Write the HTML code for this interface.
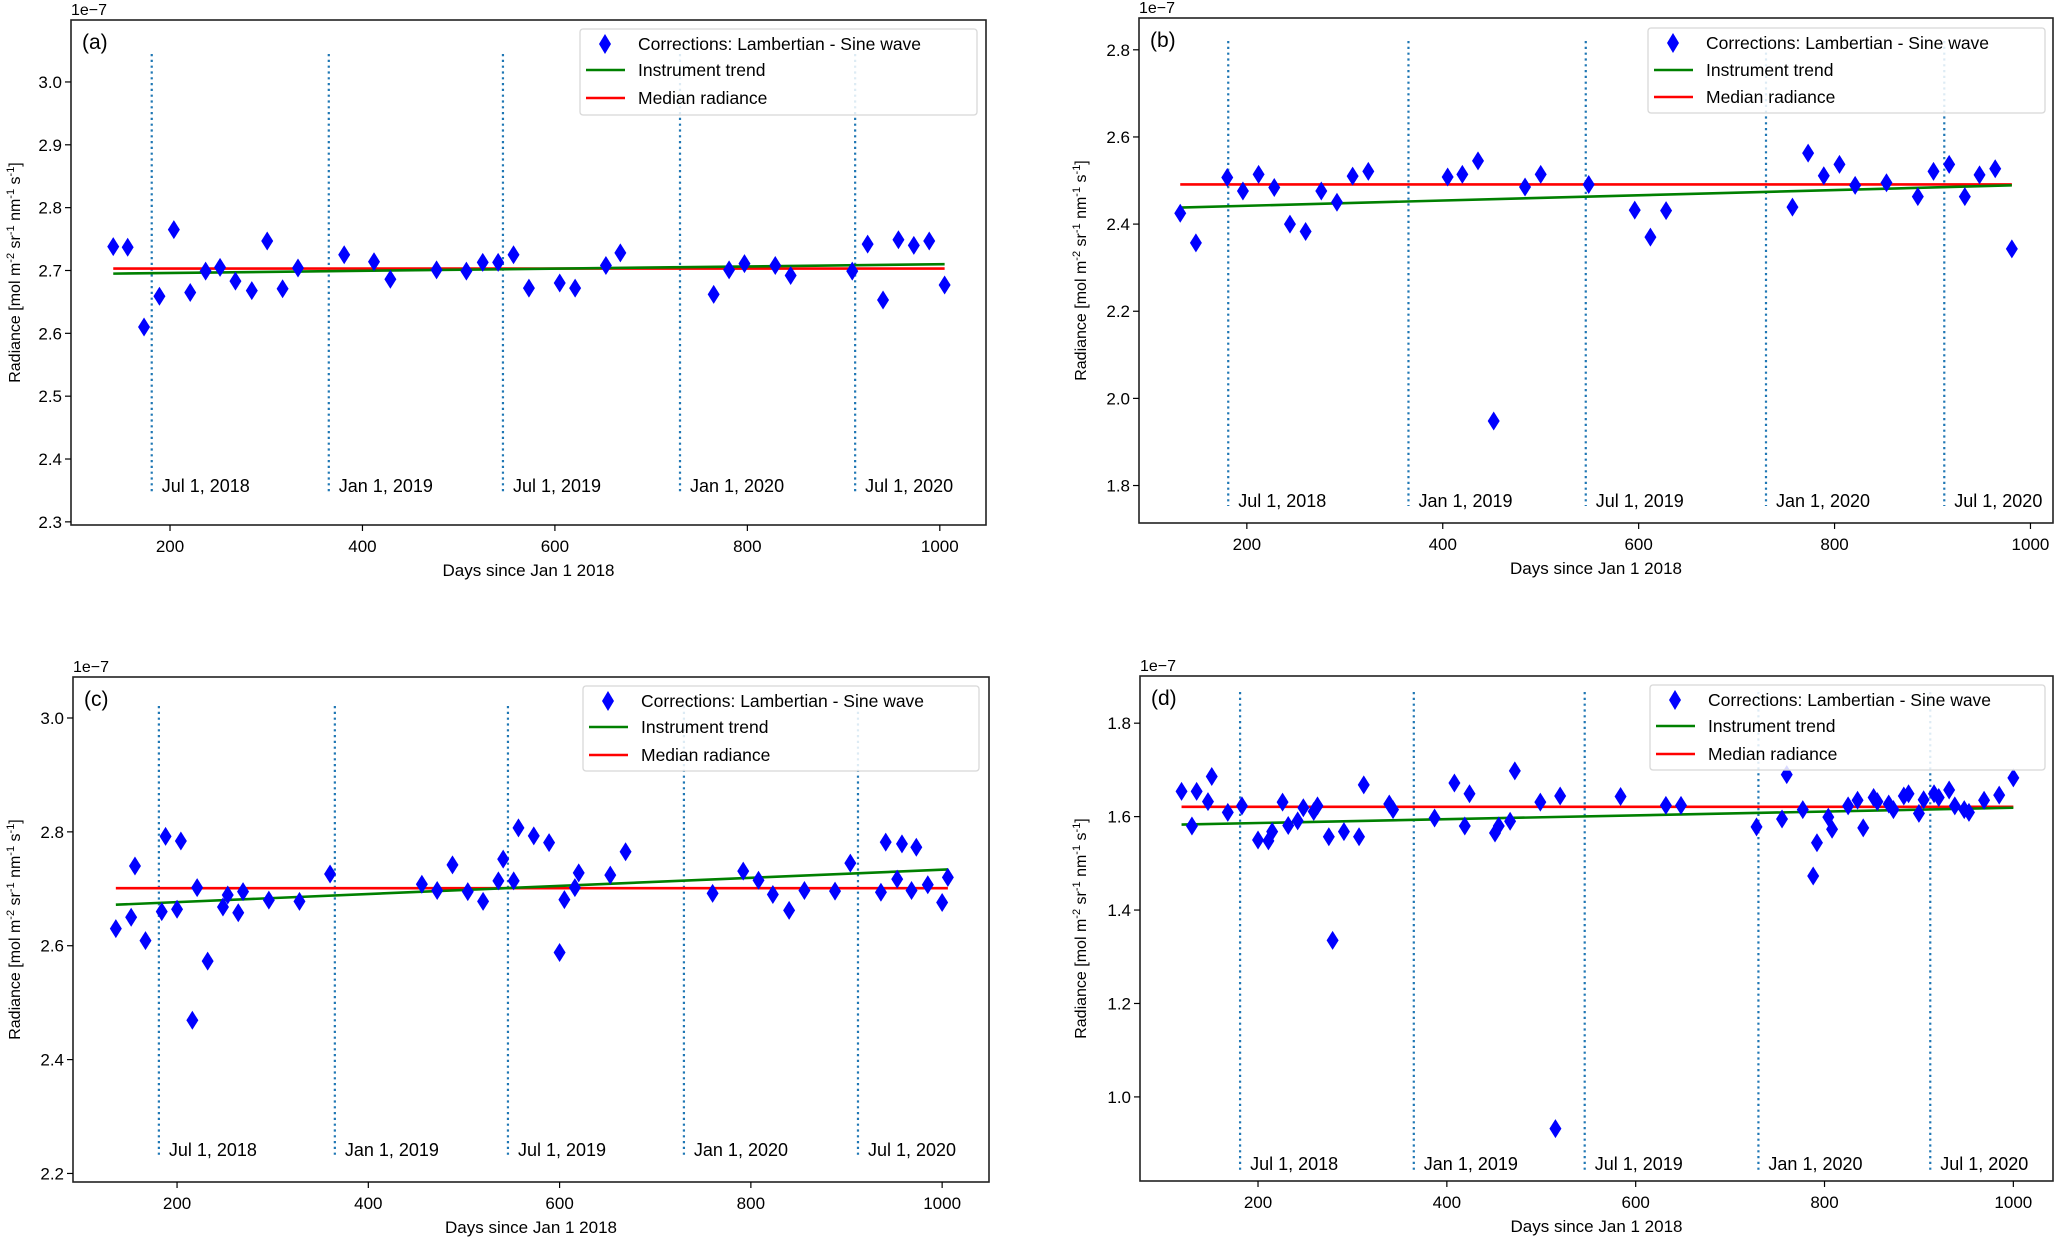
<!DOCTYPE html>
<html><head><meta charset="utf-8"><style>
html,body{margin:0;padding:0;background:#fff;}
svg{display:block;font-family:"Liberation Sans","DejaVu Sans",sans-serif;}
</style></head><body>
<svg id="fig" width="2056" height="1237" viewBox="0 0 2056 1237" xmlns="http://www.w3.org/2000/svg"></svg>
<script>
// ---- Data ----
const daysA=[141,156,173,189,204,221,237,252,268,285,301,317,333,381,412,429,477,508,525,541,557,573,605,621,653,668,765,781,797,829,845,909,925,941,957,973,989,1005];
const valsA=[2.738,2.737,2.610,2.659,2.765,2.665,2.699,2.705,2.683,2.668,2.747,2.671,2.704,2.725,2.714,2.686,2.701,2.699,2.713,2.713,2.725,2.672,2.680,2.672,2.708,2.728,2.662,2.701,2.711,2.708,2.692,2.699,2.742,2.653,2.749,2.740,2.747,2.677];
const daysB=[132,148,180,196,212,228,244,260,276,292,308,324,405,420,436,452,484,500,549,596,612,628,757,773,789,805,821,853,885,901,917,933,948,964,981];
const valsB=[2.425,2.357,2.507,2.476,2.514,2.484,2.400,2.383,2.476,2.450,2.510,2.521,2.508,2.514,2.545,1.948,2.485,2.514,2.491,2.432,2.370,2.431,2.439,2.563,2.511,2.537,2.489,2.495,2.463,2.521,2.537,2.463,2.513,2.527,2.343];
const daysC=[136,152,156,167,184,188,200,204,216,221,232,248,253,264,269,296,328,360,456,472,488,504,520,536,541,552,557,573,589,600,605,616,620,653,669,760,792,808,823,840,856,888,904,936,941,953,958,968,973,985,1000,1006];
const valsC=[2.630,2.650,2.740,2.609,2.660,2.792,2.664,2.784,2.469,2.702,2.573,2.668,2.689,2.658,2.695,2.680,2.678,2.726,2.708,2.697,2.742,2.695,2.678,2.714,2.752,2.714,2.807,2.793,2.781,2.588,2.681,2.702,2.728,2.724,2.765,2.692,2.731,2.715,2.690,2.662,2.697,2.696,2.745,2.694,2.782,2.717,2.779,2.697,2.773,2.707,2.676,2.720];
const daysD=[119,130,135,147,151,168,183,200,211,215,226,232,242,248,259,263,275,291,307,312,339,343,387,408,419,424,451,455,467,472,499,520,584,632,648,728,755,760,777,792,788,804,808,825,835,841,852,856,868,873,884,889,900,905,916,921,932,938,948,953,969,985,1000,279,515];
const valsD=[1.654,1.580,1.654,1.632,1.686,1.609,1.623,1.550,1.548,1.568,1.631,1.581,1.591,1.619,1.611,1.623,1.557,1.568,1.557,1.668,1.627,1.615,1.597,1.672,1.580,1.649,1.565,1.580,1.590,1.698,1.631,1.644,1.643,1.624,1.624,1.578,1.595,1.690,1.615,1.544,1.473,1.599,1.573,1.623,1.635,1.576,1.641,1.632,1.627,1.615,1.644,1.649,1.607,1.636,1.649,1.641,1.657,1.623,1.615,1.609,1.635,1.646,1.683,1.335,0.932];
const medians=[2.703,2.491,2.701,1.621];
const trendStart=[2.695,2.438,2.672,1.583];
const trendEnd=[2.710,2.489,2.734,1.619];
const eventDays=[181,365,546,730,912];
const eventLabels=["Jul 1, 2018","Jan 1, 2019","Jul 1, 2019","Jan 1, 2020","Jul 1, 2020"];
const xTicks=[200,400,600,800,1000];
const yTicksA=[2.3,2.4,2.5,2.6,2.7,2.8,2.9,3.0];
const yTicksB=[1.8,2.0,2.2,2.4,2.6,2.8];
const yTicksC=[2.2,2.4,2.6,2.8,3.0];
const yTicksD=[1.0,1.2,1.4,1.6,1.8];

const NS="http://www.w3.org/2000/svg";
const svg=document.getElementById('fig');
function mk(tag,attrs,parent){const e=document.createElementNS(NS,tag);for(const k in attrs)e.setAttribute(k,attrs[k]);(parent||svg).appendChild(e);return e;}

const panels=[
 {id:'a',L:71,R:986,T:20,B:525,x0:97.1,x1:1048,y0:2.295,y1:3.0986,days:daysA,vals:valsA,yt:yTicksA,dec:1,lineT:54,lineB:493,lblY:492,leg:[580,29,977,115],legRows:[44,70,98],ylx:14},
 {id:'b',L:1139,R:2053,T:18,B:523,x0:89.9,x1:1023,y0:1.714,y1:2.873,days:daysB,vals:valsB,yt:yTicksB,dec:1,lineT:41,lineB:506,lblY:507,leg:[1648,28,2045,113],legRows:[43,70,97],ylx:1080},
 {id:'c',L:73,R:989,T:677,B:1182,x0:91.2,x1:1049,y0:2.185,y1:3.072,days:daysC,vals:valsC,yt:yTicksC,dec:1,lineT:706,lineB:1157,lblY:1156,leg:[583,686,979,771],legRows:[701,727,755],ylx:14},
 {id:'d',L:1140,R:2053,T:676,B:1181,x0:75,x1:1042,y0:0.820,y1:1.901,days:daysD,vals:valsD,yt:yTicksD,dec:1,lineT:692,lineB:1173,lblY:1170,leg:[1650,685,2045,770],legRows:[700,726,754],ylx:1080}
];

panels.forEach((p,i)=>{
  const g=mk('g',{});
  
  
  const sx=d=>p.L+(d-p.x0)/(p.x1-p.x0)*(p.R-p.L);
  const sy=v=>p.B-(v-p.y0)/(p.y1-p.y0)*(p.B-p.T);
  // event lines
  eventDays.forEach((d,k)=>{
    const l=mk('line',{x1:sx(d),x2:sx(d),y1:p.lineT,y2:p.lineB,stroke:'#1f77b4','stroke-width':2.2,'stroke-dasharray':'2.2 3.6'},g);
    
    
    const t=mk('text',{x:sx(d)+10,y:p.lblY,'font-size':18,fill:'#000'},g);
    t.textContent=eventLabels[k];
    
    
  });
  const d0=p.days[0], dN=Math.max(...p.days);
  const med=mk('line',{x1:sx(d0),x2:sx(dN),y1:sy(medians[i]),y2:sy(medians[i]),stroke:'#ff0000','stroke-width':2.6},g);
  
  
  const tr=mk('line',{x1:sx(d0),x2:sx(dN),y1:sy(trendStart[i]),y2:sy(trendEnd[i]),stroke:'#008000','stroke-width':2.6},g);
  
  
  p.days.forEach((d,k)=>{
    const x=sx(d),y=sy(p.vals[k]);
    const m=mk('polygon',{points:`${x},${y-9.5} ${x+6},${y} ${x},${y+9.5} ${x-6},${y}`,fill:'#0000ff'},g);
    
    
  });
  // axes frame
  const fr=mk('rect',{x:p.L,y:p.T,width:p.R-p.L,height:p.B-p.T,fill:'none',stroke:'#222','stroke-width':1.6},g);
  
  
  xTicks.forEach(v=>{
    const x=sx(v);
    mk('line',{x1:x,x2:x,y1:p.B,y2:p.B+6,stroke:'#000','stroke-width':1.2},g);
    const t=mk('text',{x:x,y:p.B+27,'font-size':17,'text-anchor':'middle'},g);
    t.textContent=v;
    
    
  });
  p.yt.forEach(v=>{
    const y=sy(v);
    mk('line',{x1:p.L-6,x2:p.L,y1:y,y2:y,stroke:'#000','stroke-width':1.2},g);
    const t=mk('text',{x:p.L-9,y:y+6,'font-size':17,'text-anchor':'end'},g);
    t.textContent=v.toFixed(p.dec);
    
    
  });
  const xl=mk('text',{x:(p.L+p.R)/2,y:p.B+51,'font-size':17,'text-anchor':'middle'},g);
  xl.textContent='Days since Jan 1 2018';
  
  
  const cy=(p.T+p.B)/2;
  const yl=mk('text',{x:0,y:0,'font-size':16,'text-anchor':'middle',transform:`translate(${p.ylx+6},${cy}) rotate(-90)`},g);
  yl.innerHTML='Radiance [mol m<tspan font-size="11" dy="-6">-2</tspan><tspan dy="6"> sr</tspan><tspan font-size="11" dy="-6">-1</tspan><tspan dy="6"> nm</tspan><tspan font-size="11" dy="-6">-1</tspan><tspan dy="6"> s</tspan><tspan font-size="11" dy="-6">-1</tspan><tspan dy="6">]</tspan>';
  
  
  const oe=mk('text',{x:p.L,y:p.T-5,'font-size':16},g);
  oe.textContent='1e\u22127';
  
  
  const pl=mk('text',{x:p.L+11,y:p.T+29,'font-size':21},g);
  pl.textContent='('+p.id+')';
  
  
  // legend
  const [lx0,ly0,lx1,ly1]=p.leg;
  const lg=mk('g',{},g);
  
  
  mk('rect',{x:lx0,y:ly0,width:lx1-lx0,height:ly1-ly0,rx:3,fill:'#fff','fill-opacity':0.85,stroke:'#d8d8d8','stroke-width':1.3},lg);
  const mx=lx0+25, tx=lx0+58;
  const r0=p.legRows[0];
  mk('polygon',{points:`${mx},${r0-10} ${mx+6},${r0} ${mx},${r0+10} ${mx-6},${r0}`,fill:'#0000ff'},lg);
  mk('line',{x1:lx0+6,x2:lx0+45,y1:p.legRows[1],y2:p.legRows[1],stroke:'#008000','stroke-width':2.6},lg);
  mk('line',{x1:lx0+6,x2:lx0+45,y1:p.legRows[2],y2:p.legRows[2],stroke:'#ff0000','stroke-width':2.6},lg);
  ['Corrections: Lambertian - Sine wave','Instrument trend','Median radiance'].forEach((s,k)=>{
    const t=mk('text',{x:tx,y:p.legRows[k]+6,'font-size':17.5},lg);
    t.textContent=s;
    
    
  });
});
</script>
</body></html>
